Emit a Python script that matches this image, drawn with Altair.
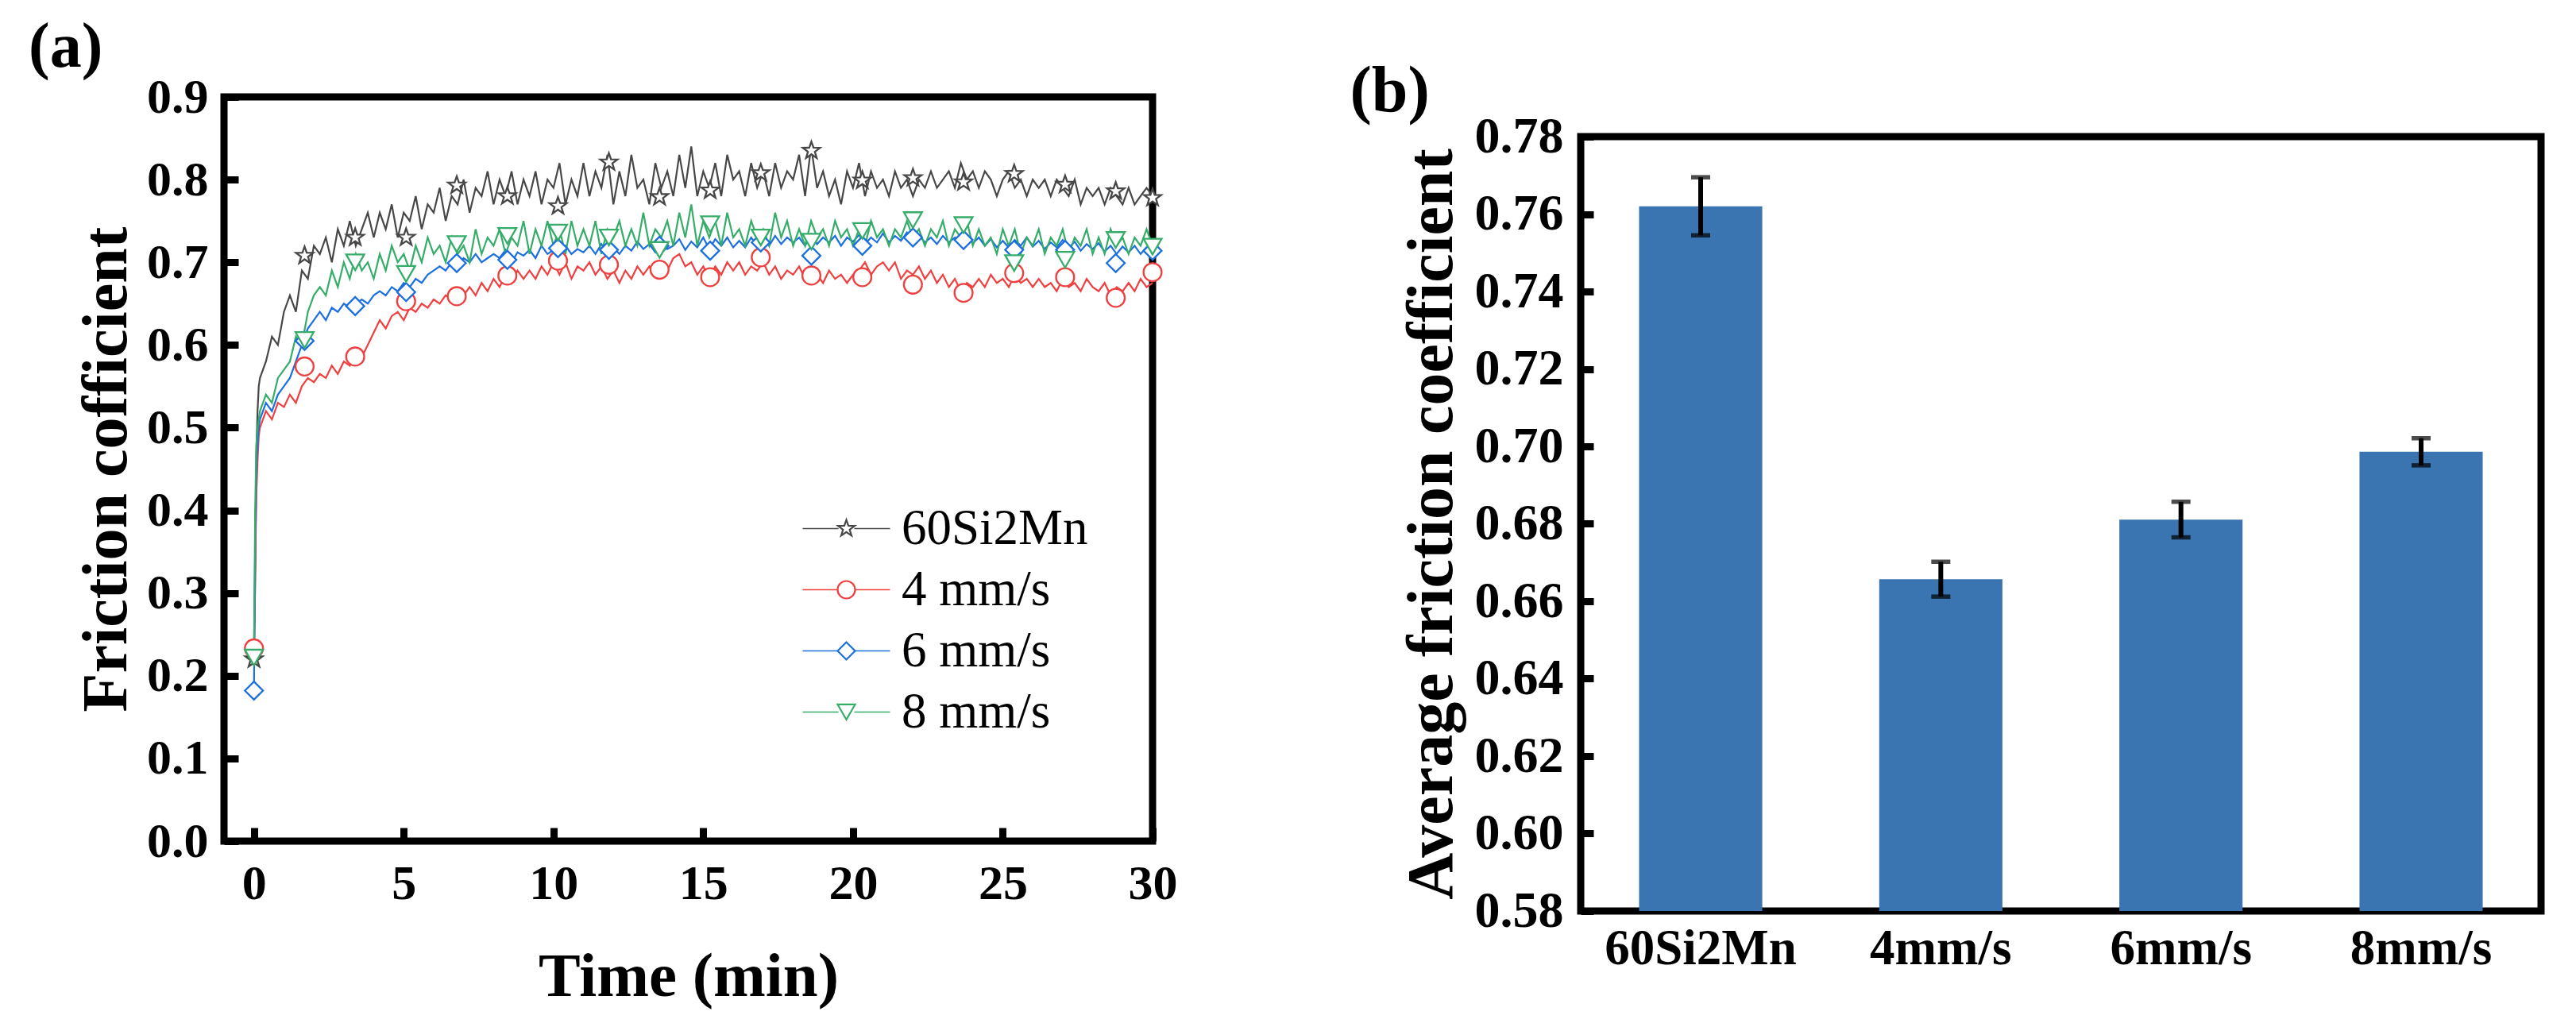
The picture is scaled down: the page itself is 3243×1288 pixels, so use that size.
import altair as alt
import pandas as pd

# ---------------- data: panel (a) ----------------
SERIES = ["60Si2Mn", "4 mm/s", "6 mm/s", "8 mm/s"]
CURVE_KEYS = ["c60", "c4", "c6", "c8"]
COLORS = ["#474747", "#f03f3f", "#1b6fe0", "#35ad69"]
STAR = ("M0,-1L0.235,-0.324L0.951,-0.309L0.380,0.124L0.588,0.809L0,0.4"
        "L-0.588,0.809L-0.380,0.124L-0.951,-0.309L-0.235,-0.324Z")
SHAPES = [STAR, "circle", "diamond", "triangle-down"]

t_early = [0, 0.04, 0.08, 0.12, 0.16]
t_main = [round(0.2 * i, 1) for i in range(1, 151)]
time_min = t_early + t_main

mu_60si2mn = [
    0.22, 0.31, 0.47, 0.52, 0.55,
    0.56, 0.58, 0.61, 0.60, 0.64,
    0.66, 0.64, 0.69, 0.68, 0.72,
    0.71, 0.73, 0.70, 0.74, 0.72,
    0.75, 0.72, 0.74, 0.76, 0.73,
    0.76, 0.74, 0.77, 0.73, 0.76,
    0.75, 0.78, 0.74, 0.77, 0.76,
    0.79, 0.75, 0.78, 0.77, 0.80,
    0.76, 0.79, 0.78, 0.81, 0.77,
    0.80, 0.78, 0.81, 0.77, 0.80,
    0.78, 0.81, 0.77, 0.80, 0.79,
    0.82, 0.77, 0.80, 0.78, 0.82,
    0.78, 0.81, 0.79, 0.83, 0.77,
    0.81, 0.78, 0.83, 0.79, 0.80,
    0.77, 0.82, 0.79, 0.81, 0.78,
    0.83, 0.79, 0.84, 0.78, 0.81,
    0.79, 0.82, 0.78, 0.83, 0.80,
    0.81, 0.78, 0.82, 0.79, 0.81,
    0.78, 0.82, 0.79, 0.81, 0.80,
    0.83, 0.78, 0.84, 0.79, 0.81,
    0.78, 0.80, 0.77, 0.81, 0.79,
    0.82, 0.78, 0.81, 0.79, 0.80,
    0.78, 0.81, 0.79, 0.80, 0.78,
    0.80, 0.79, 0.81, 0.79, 0.80,
    0.81, 0.79, 0.82, 0.80, 0.81,
    0.79, 0.81, 0.80, 0.78, 0.80,
    0.81, 0.79, 0.80, 0.78, 0.80,
    0.79, 0.80, 0.78, 0.80, 0.79,
    0.78, 0.80, 0.77, 0.79, 0.78,
    0.79, 0.77, 0.79, 0.78, 0.77,
    0.79, 0.77, 0.78, 0.79, 0.78,
]
mu_4mms = [
    0.233, 0.33, 0.42, 0.46, 0.49,
    0.50, 0.52, 0.51, 0.53, 0.525,
    0.54, 0.53, 0.55, 0.56, 0.555,
    0.565, 0.56, 0.575, 0.565, 0.58,
    0.575, 0.59, 0.585, 0.60, 0.615,
    0.63, 0.62, 0.635, 0.64, 0.63,
    0.645, 0.64, 0.65, 0.645, 0.655,
    0.65, 0.66, 0.655, 0.665, 0.66,
    0.67, 0.66, 0.675, 0.665, 0.68,
    0.67, 0.685, 0.675, 0.69, 0.68,
    0.69, 0.68, 0.695, 0.685, 0.70,
    0.685, 0.70, 0.68, 0.695, 0.69,
    0.70, 0.685, 0.695, 0.68, 0.69,
    0.675, 0.69, 0.68, 0.695, 0.685,
    0.695, 0.685, 0.70, 0.69, 0.705,
    0.71, 0.695, 0.70, 0.685, 0.695,
    0.68, 0.695, 0.685, 0.70, 0.69,
    0.70, 0.685, 0.695, 0.69, 0.70,
    0.685, 0.695, 0.68, 0.69, 0.685,
    0.695, 0.68, 0.69, 0.685, 0.675,
    0.69, 0.68, 0.685, 0.675, 0.685,
    0.69, 0.70, 0.685, 0.695, 0.70,
    0.69, 0.70, 0.68, 0.69, 0.685,
    0.695, 0.68, 0.69, 0.675, 0.685,
    0.67, 0.68, 0.665, 0.675, 0.67,
    0.68, 0.67, 0.685, 0.675, 0.68,
    0.67, 0.685, 0.675, 0.68, 0.67,
    0.68, 0.67, 0.675, 0.665, 0.68,
    0.67, 0.675, 0.665, 0.68, 0.67,
    0.665, 0.675, 0.66, 0.67, 0.665,
    0.675, 0.665, 0.68, 0.67, 0.675,
]
mu_6mms = [
    0.182, 0.36, 0.45, 0.48, 0.50,
    0.51, 0.53, 0.52, 0.54, 0.55,
    0.56, 0.58, 0.60, 0.62, 0.63,
    0.64, 0.63, 0.645, 0.64, 0.65,
    0.645, 0.65, 0.655, 0.65, 0.66,
    0.665, 0.66, 0.67, 0.665, 0.675,
    0.67, 0.68, 0.675, 0.685, 0.69,
    0.695, 0.69, 0.70, 0.695, 0.705,
    0.70, 0.71, 0.70, 0.705, 0.71,
    0.705, 0.715, 0.70, 0.712, 0.708,
    0.715, 0.705, 0.72, 0.71, 0.715,
    0.708, 0.72, 0.71, 0.716, 0.712,
    0.72, 0.71, 0.722, 0.712, 0.718,
    0.71, 0.72, 0.714, 0.725, 0.716,
    0.722, 0.712, 0.726, 0.716, 0.72,
    0.728, 0.715, 0.725, 0.718, 0.73,
    0.716, 0.728, 0.72, 0.73, 0.718,
    0.726, 0.718, 0.73, 0.72, 0.728,
    0.72, 0.732, 0.722, 0.73, 0.724,
    0.73, 0.72, 0.734, 0.722, 0.73,
    0.724, 0.732, 0.72, 0.73, 0.725,
    0.733, 0.722, 0.73, 0.724, 0.735,
    0.724, 0.732, 0.726, 0.736, 0.725,
    0.733, 0.724, 0.73, 0.722, 0.732,
    0.724, 0.73, 0.72, 0.732, 0.723,
    0.73, 0.72, 0.728, 0.718, 0.726,
    0.718, 0.727, 0.72, 0.73, 0.719,
    0.726, 0.716, 0.724, 0.718, 0.727,
    0.717, 0.725, 0.714, 0.722, 0.716,
    0.723, 0.713, 0.72, 0.71, 0.719,
    0.712, 0.72, 0.71, 0.718, 0.714,
]
mu_8mms = [
    0.222, 0.40, 0.48, 0.50, 0.51,
    0.52, 0.54, 0.53, 0.56, 0.57,
    0.58, 0.61, 0.60, 0.64, 0.66,
    0.67, 0.66, 0.69, 0.67, 0.70,
    0.68, 0.71, 0.69, 0.70, 0.68,
    0.71, 0.69, 0.72, 0.70, 0.71,
    0.69, 0.72, 0.70, 0.73, 0.71,
    0.72, 0.70, 0.73, 0.71, 0.72,
    0.70, 0.74, 0.71, 0.73, 0.72,
    0.74, 0.71, 0.73, 0.72, 0.75,
    0.71, 0.74, 0.72, 0.75, 0.72,
    0.74, 0.71, 0.75, 0.72, 0.74,
    0.72, 0.75, 0.71, 0.74, 0.73,
    0.75, 0.72, 0.74, 0.72, 0.76,
    0.72, 0.74, 0.73, 0.75, 0.72,
    0.76, 0.73, 0.77, 0.72, 0.75,
    0.73, 0.75, 0.72, 0.76, 0.73,
    0.74, 0.72, 0.75, 0.73, 0.74,
    0.72, 0.76, 0.73, 0.75, 0.72,
    0.74, 0.72, 0.75, 0.73, 0.74,
    0.72, 0.75, 0.73, 0.74, 0.72,
    0.74, 0.72, 0.75, 0.73, 0.74,
    0.72, 0.74, 0.73, 0.75, 0.73,
    0.74, 0.72, 0.74, 0.73, 0.75,
    0.72, 0.74, 0.73, 0.75, 0.72,
    0.74, 0.72, 0.73, 0.71, 0.74,
    0.72, 0.74, 0.71, 0.73, 0.72,
    0.74, 0.71, 0.73, 0.72, 0.74,
    0.71, 0.73, 0.72, 0.74, 0.71,
    0.73, 0.71, 0.74, 0.72, 0.73,
    0.71, 0.73, 0.72, 0.74, 0.72,
]

marker_t = [0, 1.69, 3.38, 5.08, 6.77, 8.46, 10.15, 11.85, 13.54, 15.23,
            16.92, 18.61, 20.31, 22.0, 23.69, 25.38, 27.08, 28.77, 30.0]
mk_60si2mn = [0.22, 0.708, 0.730, 0.730, 0.793, 0.780, 0.768, 0.821, 0.779, 0.787,
              0.808, 0.835, 0.799, 0.802, 0.797, 0.807, 0.794, 0.786, 0.778]
mk_4mms = [0.233, 0.574, 0.586, 0.653, 0.659, 0.684, 0.702, 0.697, 0.691, 0.682,
           0.706, 0.684, 0.682, 0.673, 0.663, 0.687, 0.682, 0.657, 0.688]
mk_6mms = [0.182, 0.605, 0.647, 0.664, 0.699, 0.703, 0.717, 0.715, 0.720, 0.714,
           0.724, 0.708, 0.720, 0.730, 0.727, 0.715, 0.715, 0.699, 0.714]
mk_8mms = [0.222, 0.606, 0.700, 0.686, 0.722, 0.732, 0.736, 0.730, 0.715, 0.746,
           0.730, 0.725, 0.738, 0.751, 0.745, 0.699, 0.703, 0.727, 0.719]

x_ticks_a = [0, 5, 10, 15, 20, 25, 30]
y_ticks_a = [0.0, 0.1, 0.2, 0.3, 0.4, 0.5, 0.6, 0.7, 0.8, 0.9]

# ---------------- data: panel (b) ----------------
CATS = ["60Si2Mn", "4mm/s", "6mm/s", "8mm/s"]
avg_mu = [0.762, 0.6657, 0.6811, 0.6986]
err_mu = [0.0075, 0.0045, 0.0046, 0.0035]
y_ticks_b = [0.58, 0.60, 0.62, 0.64, 0.66, 0.68, 0.70, 0.72, 0.74, 0.76, 0.78]

SERIF = "Liberation Serif"

# ---------------- build frames ----------------
curves = [mu_60si2mn, mu_4mms, mu_6mms, mu_8mms]
marks = [mk_60si2mn, mk_4mms, mk_6mms, mk_8mms]

line_df = pd.concat([pd.DataFrame({"t": time_min, "mu": curves[i], "Curve": CURVE_KEYS[i]})
                     for i in range(4)])
mk_df = pd.concat([pd.DataFrame({"t": marker_t, "mu": marks[i], "Sample": SERIES[i]})
                   for i in range(4)])

W_A, H_A = 1169, 937
W_B, H_B = 1209, 975
GAP_B = 13  # extra drop of panel (b) frame below panel (a) frame (besides its labels)

x_a = alt.X("t:Q",
            scale=alt.Scale(domain=[-1, 30], nice=False, zero=False),
            axis=alt.Axis(values=x_ticks_a, format="d", title="Time (min)",
                          offset=-17, tickSize=17, tickWidth=9, labelPadding=23,
                          labelFontSize=62, labelFlush=False, labelOverlap=False,
                          titleFontSize=79, titleX=W_A / 2, titleY=211,
                          titleBaseline="alphabetic", titleAlign="center"))
y_a = alt.Y("mu:Q",
            scale=alt.Scale(domain=[0, 0.9], nice=False, zero=False),
            axis=alt.Axis(values=y_ticks_a, format=".1f", title="Friction cofficient",
                          offset=-18, tickSize=18, tickWidth=9, labelPadding=20,
                          labelFontSize=62, labelFlush=False, labelOverlap=False,
                          titleFontSize=80, titleX=-142, titleY=H_A / 2, titleAngle=270,
                          titleBaseline="alphabetic", titleAlign="center", titleLimit=3000))

LEG_X, LEG_Y = 752, 512
leg_lines = alt.Legend(title=None, orient="none", legendX=LEG_X, legendY=LEG_Y,
                       symbolType="M-5,0H-0.9M0.9,0H5", symbolSize=484, symbolStrokeWidth=1.6,
                       labelFont=SERIF, labelFontSize=63, labelFontWeight="normal",
                       labelExpr="''", labelOpacity=0, labelLimit=600, labelOffset=38,
                       rowPadding=13, padding=0)
leg_marks = alt.Legend(title=None, orient="none", legendX=LEG_X, legendY=LEG_Y,
                       symbolSize=484, symbolStrokeWidth=2.2, symbolFillColor="white",
                       labelFont=SERIF, labelFontSize=63, labelFontWeight="normal",
                       labelColor="black", labelLimit=600, labelOffset=38, rowPadding=13,
                       padding=0)

line_layers = []
for i, key in enumerate(CURVE_KEYS):
    line_layers.append(
        alt.Chart(line_df[line_df["Curve"] == key]).mark_line(strokeWidth=2.2).encode(
            x=x_a, y=y_a,
            color=alt.Color("Curve:N", scale=alt.Scale(domain=CURVE_KEYS, range=COLORS),
                            legend=leg_lines if i == 0 else None),
        )
    )

points = alt.Chart(mk_df).mark_point(filled=True, fill="white", size=520, strokeWidth=2.3,
                                     opacity=1).encode(
    x="t:Q", y="mu:Q",
    stroke=alt.Stroke("Sample:N", scale=alt.Scale(domain=SERIES, range=COLORS), legend=leg_marks),
    shape=alt.Shape("Sample:N", scale=alt.Scale(domain=SERIES, range=SHAPES), legend=leg_marks),
)

panel_a = alt.layer(*line_layers, points).properties(
    width=W_A, height=H_A,
    title=alt.TitleParams("(a)", anchor="start", frame="bounds", dx=-58, dy=10, offset=0,
                          font=SERIF, fontSize=80, fontWeight="bold", color="black"),
)

# ---------------- panel (b) ----------------
bar_df = pd.DataFrame({"cat": CATS, "avg": avg_mu, "err": err_mu})
bar_df["lo"] = bar_df["avg"] - bar_df["err"]
bar_df["hi"] = bar_df["avg"] + bar_df["err"]

x_b = alt.X("cat:N", sort=CATS,
            scale=alt.Scale(paddingInner=0.487, paddingOuter=0.243),
            axis=alt.Axis(title=None, ticks=False, tickSize=0, labelAngle=0, labelPadding=16,
                          labelFontSize=63, labelLimit=600))
y_b = alt.Y("avg:Q",
            scale=alt.Scale(domain=[0.58, 0.78], nice=False, zero=False),
            axis=alt.Axis(values=y_ticks_b, format=".2f", title="Average friction coefficient",
                          offset=-16, tickSize=16, tickWidth=9, labelPadding=22,
                          labelFontSize=64, labelFlush=False, labelOverlap=False,
                          titleFontSize=82, titleX=-179, titleY=H_B / 2, titleAngle=270,
                          titleBaseline="alphabetic", titleAlign="center", titleLimit=3000))

bars = alt.Chart(bar_df).mark_bar(color="#3a74b1", clip=True).encode(x=x_b, y=y_b)
err_rule = alt.Chart(bar_df).mark_rule(color="black", strokeWidth=6).encode(
    x=alt.X("cat:N", sort=CATS), y="lo:Q", y2="hi:Q")
cap_lo = alt.Chart(bar_df).mark_tick(color="black", size=24, thickness=5.5).encode(
    x=alt.X("cat:N", sort=CATS), y="lo:Q")
cap_hi = alt.Chart(bar_df).mark_tick(color="black", size=24, thickness=5.5).encode(
    x=alt.X("cat:N", sort=CATS), y="hi:Q")

panel_b = alt.layer(bars, err_rule, cap_lo, cap_hi).properties(width=W_B, height=H_B)

# blank strip above panel (b) so that its frame sits lower than panel (a)'s
spacer = alt.Chart(pd.DataFrame({"v": [0]})).mark_point(opacity=0).encode(
    x=alt.value(0), y=alt.value(0)
).properties(width=W_B, height=GAP_B,
             view=alt.ViewBackground(fill="white", stroke="white", strokeWidth=0))

panel_b_wrap = alt.vconcat(spacer, panel_b, spacing=0).properties(
    title=alt.TitleParams("(b)", anchor="start", frame="bounds", dx=-57, dy=38, offset=0,
                          font=SERIF, fontSize=82, fontWeight="bold", color="black"),
)

chart = alt.concat(panel_a, panel_b_wrap, columns=2, spacing=212, align="none").properties(
    padding={"left": 23, "top": 7, "right": 5, "bottom": 5}
).configure(background="white").configure_view(
    stroke="black", strokeWidth=9
).configure_axis(
    grid=False, domain=False, labelFont=SERIF, labelFontWeight="bold", labelColor="black",
    tickColor="black", titleFont=SERIF, titleFontWeight="bold", titleColor="black",
)

chart.save("out.html", embed_options={"renderer": "svg", "actions": False})
